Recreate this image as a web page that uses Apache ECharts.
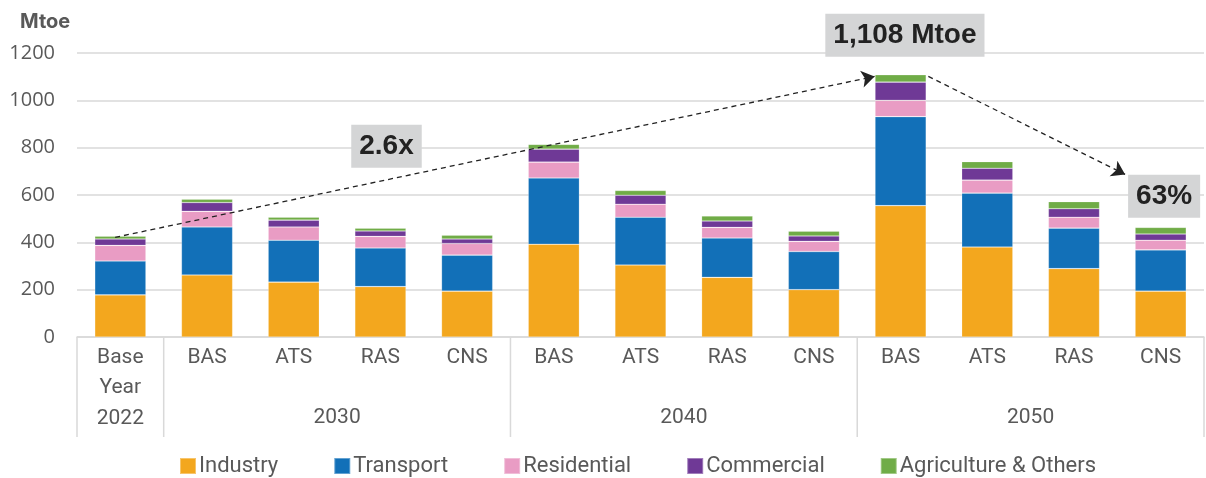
<!DOCTYPE html>
<html>
<head>
<meta charset="utf-8">
<script src="https://cdn.jsdelivr.net/npm/echarts@6/dist/echarts.min.js"></script>
<style>
  html, body { margin: 0; padding: 0; background: #fff; }
  #chart { width: 1206px; height: 478px; }
</style>
</head>
<body>
<div id="chart"></div>
<script>
// categories
var categories = ['Base\nYear\n2022', 'BAS', 'ATS', 'RAS', 'CNS', 'BAS', 'ATS', 'RAS', 'CNS', 'BAS', 'ATS', 'RAS', 'CNS'];
var groupLabels = ['2030', '2040', '2050'];
var groupCenters = [2.5, 6.5, 10.5];
var groupBounds = [-0.5, 0.5, 4.5, 8.5, 12.5];

// series values (Mtoe)
var industry    = [178, 262, 232, 213, 194, 392, 304, 252, 200, 555, 380, 289, 194];
var transport   = [143, 203, 177, 163, 152, 280, 202, 166, 161, 376, 228, 171, 174];
var residential = [66, 66, 56, 49, 49, 67, 55, 45, 43, 69, 55, 46, 41];
var commercial  = [27, 37, 29, 23, 19, 55, 38, 27, 23, 77, 50, 36, 26];
var agriculture = [12, 14, 12, 12, 16, 20, 20, 21, 20, 31, 28, 30, 28];

var yTicks = [0, 200, 400, 600, 800, 1000, 1200];

// annotations: arrows and boxes (x in category index units, y in Mtoe)
var arrows = [
  [[-0.06, 421], [8.7, 1101]],
  [[9.32, 1101], [11.59, 687]]
];
var boxes = [
  { text: '2.6x', x: 3.07, y: 806 },
  { text: '1,108 Mtoe', x: 9.05, y: 1275 },
  { text: '63%', x: 12.04, y: 595 }
];

var colors = ['#F3A71E', '#1270B8', '#E99CC4', '#6F3996', '#70AC47'];
var names = ['Industry', 'Transport', 'Residential', 'Commercial', 'Agriculture & Others'];
var values = [industry, transport, residential, commercial, agriculture];

var myChart = echarts.init(document.getElementById('chart'));

var series = values.map(function (v, i) {
  return {
    name: names[i],
    type: 'bar',
    stack: 'total',
    barWidth: '59%',
    itemStyle: { color: colors[i], borderColor: 'rgba(255,255,255,0.35)', borderWidth: 0.6 },
    data: v
  };
});

series.push({
  type: 'lines',
  coordinateSystem: 'cartesian2d',
  xAxisIndex: 1,
  yAxisIndex: 0,
  silent: true,
  symbol: ['none', 'arrow'],
  symbolSize: 13,
  lineStyle: { color: '#222', width: 1.3, type: [5, 4], opacity: 1 },
  data: arrows.map(function (a) { return { coords: a }; }),
  z: 5
});

var option = {
  animation: false,
  color: colors,
  title: {
    text: 'Mtoe',
    left: 15,
    top: 7,
    textStyle: { fontFamily: 'Inter', fontWeight: 'bold', fontSize: 20, color: '#595959' }
  },
  grid: { left: 77, right: 2, top: 53, bottom: 141 },
  legend: {
    data: names,
    left: 174,
    top: 450,
    icon: 'rect',
    itemWidth: 16,
    itemHeight: 16,
    itemGap: 55,
    textStyle: { fontFamily: 'Roboto', fontSize: 22, color: '#595959', padding: [0, 0, 0, -2] }
  },
  xAxis: [
    {
      type: 'category',
      data: categories,
      axisLine: { lineStyle: { color: '#d9d9d9', width: 1.5 } },
      axisTick: { show: false },
      axisLabel: {
        interval: 0,
        margin: 5,
        fontFamily: 'Roboto',
        fontSize: 21,
        lineHeight: 30.5,
        color: '#595959'
      }
    },
    {
      type: 'value',
      min: -0.5,
      max: 12.5,
      show: false
    }
  ],
  yAxis: {
    type: 'value',
    min: 0,
    max: 1200,
    interval: 200,
    axisLine: { show: false },
    axisTick: { show: false },
    axisLabel: {
      margin: 22,
      fontFamily: 'Open Sans',
      fontSize: 20,
      color: '#595959',
      formatter: function (v) { return yTicks.indexOf(v) >= 0 ? String(v) : ''; }
    },
    splitLine: { lineStyle: { color: '#d9d9d9', width: 1.5 } }
  },
  series: series
};

myChart.setOption(option);

// x-axis group separators, group labels and annotation boxes
function px(x, y) {
  return myChart.convertToPixel({ xAxisIndex: 1, yAxisIndex: 0 }, [x, y]);
}
var graphics = [];
var base = px(0, 0);
groupBounds.forEach(function (b) {
  var p = px(b, 0);
  graphics.push({
    type: 'line',
    shape: { x1: p[0], y1: base[1], x2: p[0], y2: base[1] + 100 },
    style: { stroke: '#d9d9d9', lineWidth: 1.5 },
    silent: true
  });
});
groupLabels.forEach(function (g, i) {
  var p = px(groupCenters[i], 0);
  graphics.push({
    type: 'text',
    style: {
      text: g, x: p[0], y: base[1] + 81,
      font: '21px Roboto', fill: '#595959',
      align: 'center', verticalAlign: 'middle'
    },
    silent: true
  });
});
boxes.forEach(function (b) {
  var p = px(b.x, b.y);
  graphics.push({
    type: 'text',
    z: 10,
    style: {
      text: b.text, x: p[0], y: p[1],
      font: 'bold 28px "Liberation Sans"', fill: '#222',
      align: 'center', verticalAlign: 'middle',
      backgroundColor: '#d4d5d6',
      padding: [8, 8, 7, 8]
    },
    silent: true
  });
});
myChart.setOption({ graphic: graphics });
</script>
</body>
</html>
